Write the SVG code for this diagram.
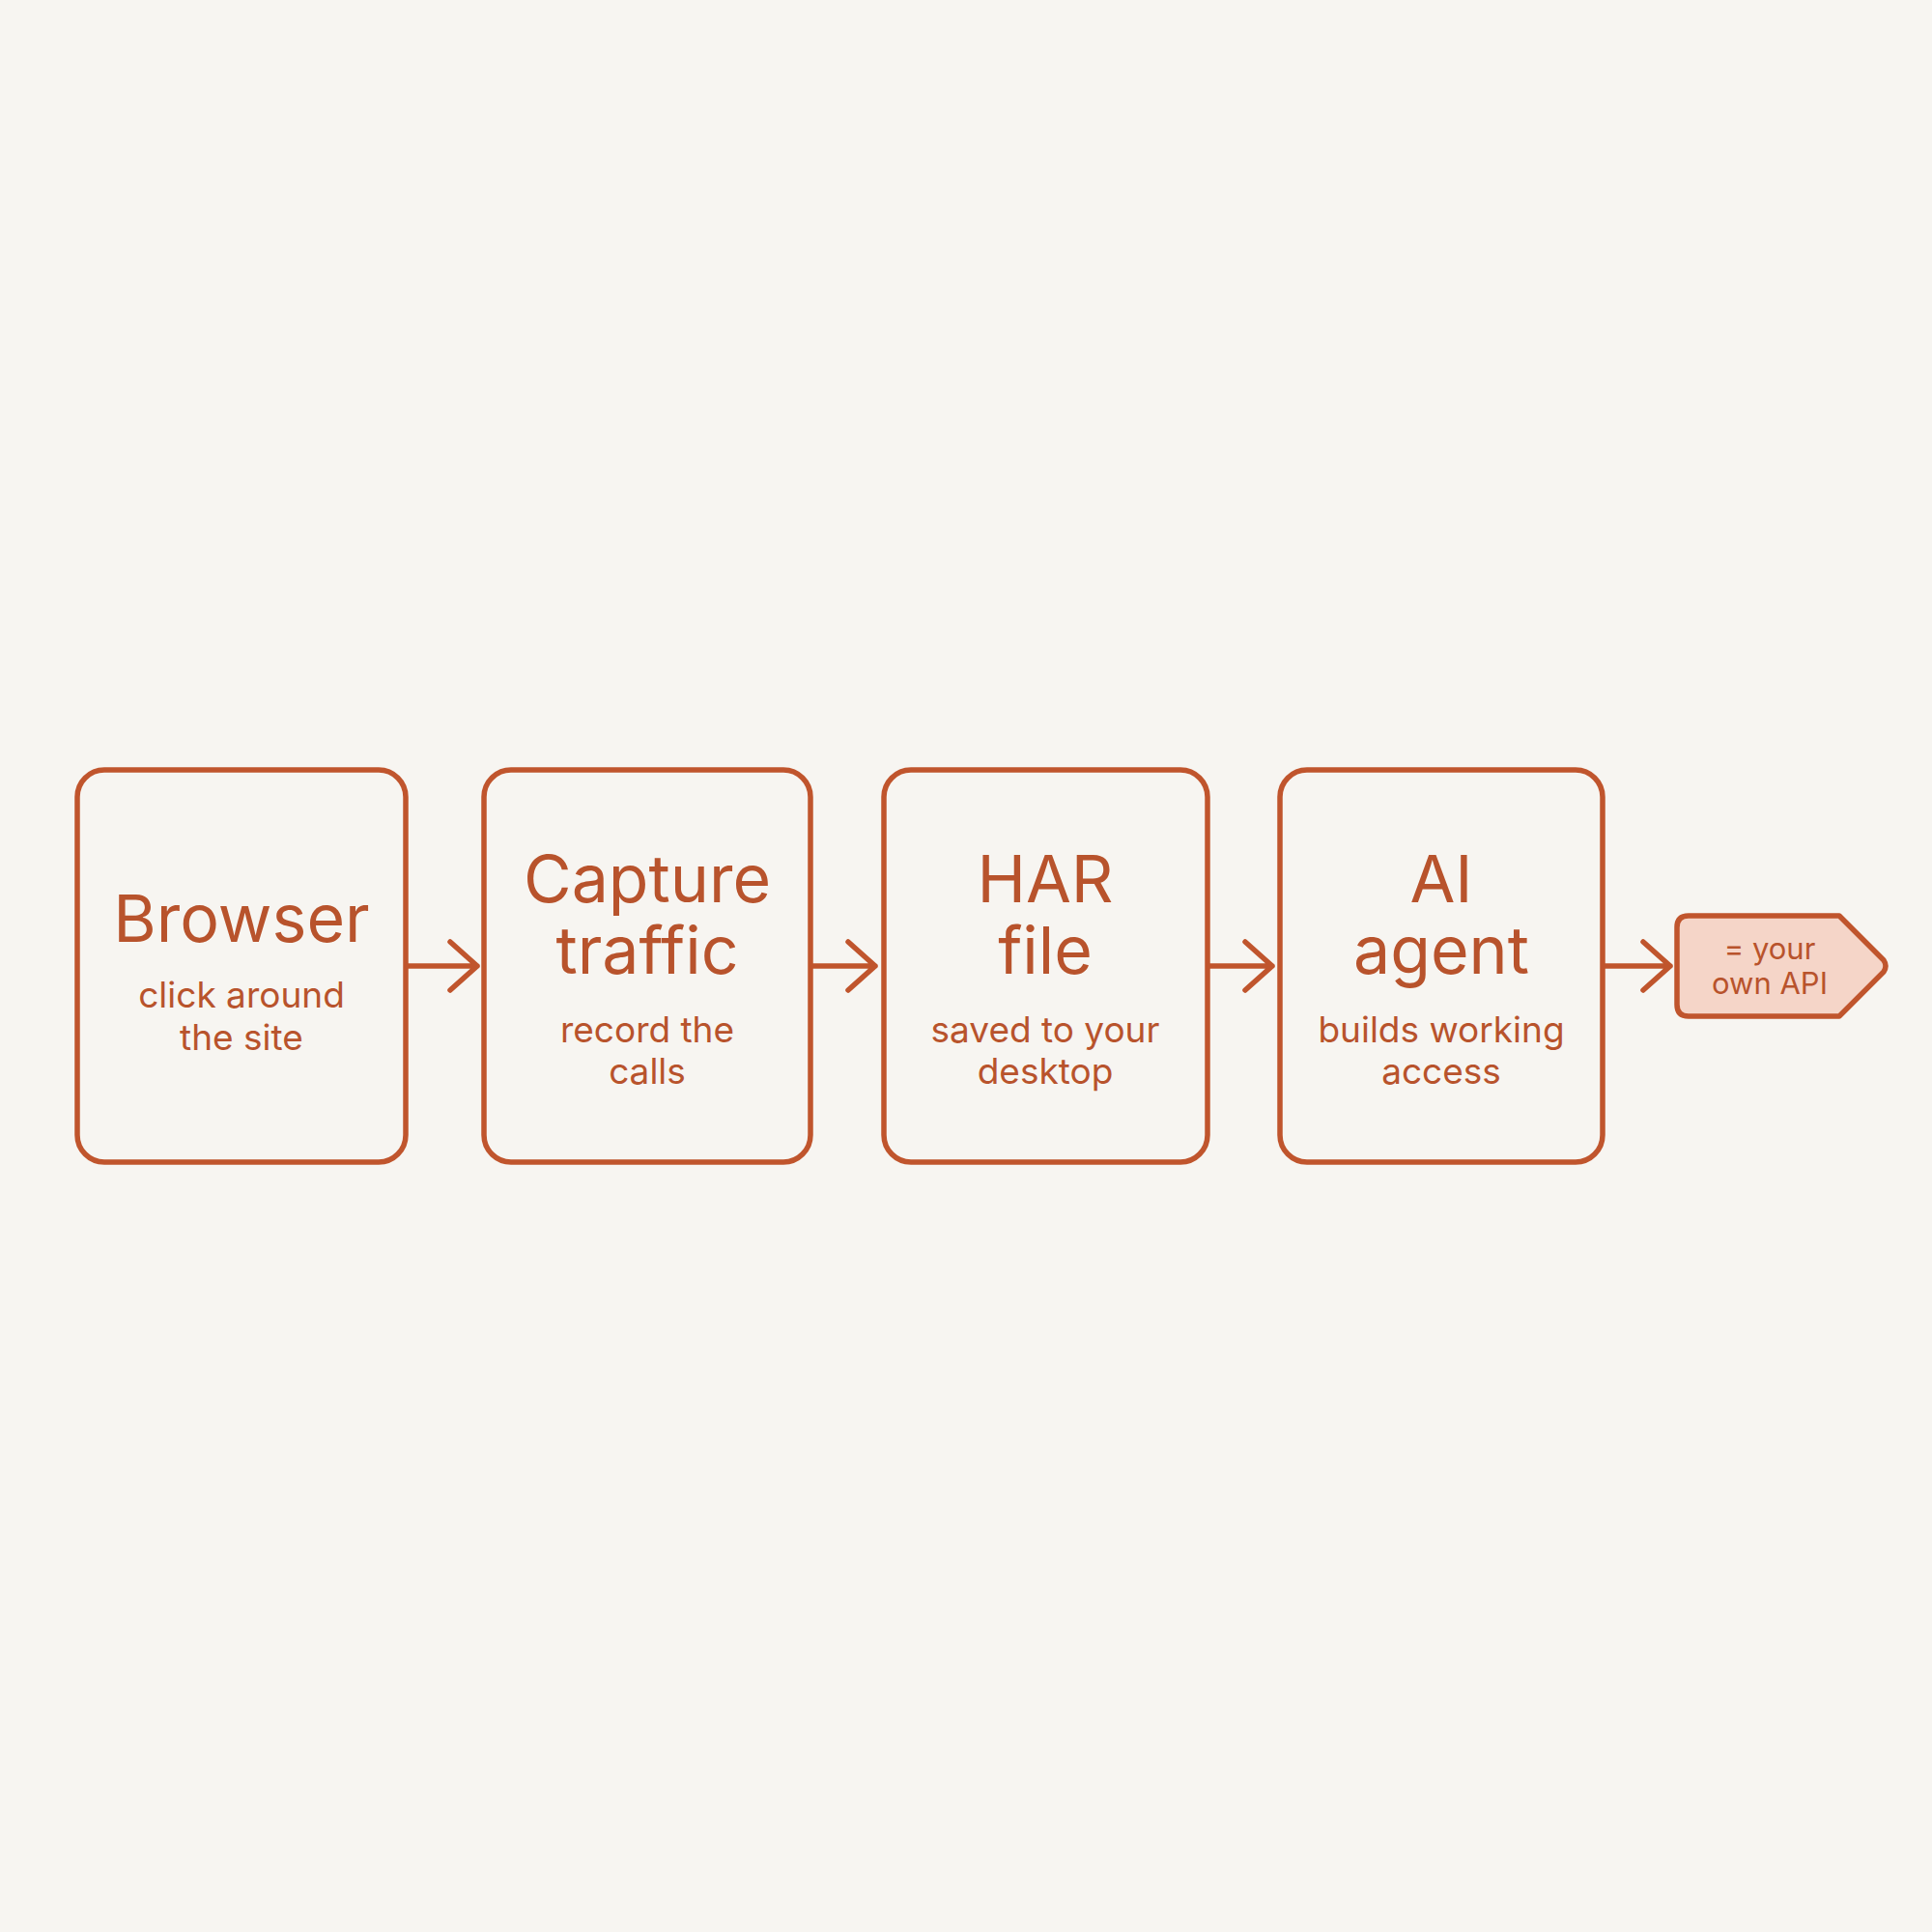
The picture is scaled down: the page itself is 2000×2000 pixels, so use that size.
<svg xmlns="http://www.w3.org/2000/svg" width="2000" height="2000" viewBox="0 0 2000 2000">
<style>
.box{fill:none;stroke:#C0552D;stroke-width:5.5}
.t{font-family:Inter,"Liberation Sans",sans-serif;fill:#B8532C;text-anchor:middle}
.h{font-size:68px}
.s{font-size:37px}
.c{fill:none;stroke:#C0552D;stroke-width:5.5;stroke-linecap:round;stroke-linejoin:round}
</style>
<rect width="2000" height="2000" fill="#F7F5F1"/>
<g id="browser"><rect class="box" x="80" y="797" width="340" height="406" rx="28"/>
<text class="t h" x="250" y="975">Browser</text>
<text class="t s" x="250" y="1043">click around</text><text class="t s" x="250" y="1087">the site</text></g>
<g id="capture"><rect class="box" x="501" y="797" width="338" height="406" rx="28"/>
<text class="t h" x="670" y="934">Capture</text><text class="t h" x="670" y="1008">traffic</text>
<text class="t s" x="670" y="1079">record the</text><text class="t s" x="670" y="1122">calls</text></g>
<g id="har"><rect class="box" x="915" y="797" width="335" height="406" rx="28"/>
<text class="t h" x="1082" y="934">HAR</text><text class="t h" x="1082" y="1008">file</text>
<text class="t s" x="1082" y="1079">saved to your</text><text class="t s" x="1082" y="1122">desktop</text></g>
<g id="agent"><rect class="box" x="1325" y="797" width="334" height="406" rx="28"/>
<text class="t h" x="1492" y="934">AI</text><text class="t h" x="1492" y="1008">agent</text>
<text class="t s" x="1492" y="1079">builds working</text><text class="t s" x="1492" y="1122">access</text></g>
<g id="api"><path d="M1748 948 H1904 L1950 994 Q1954 1000 1950 1006 L1904 1052 H1748 Q1736 1052 1736 1040 V960 Q1736 948 1748 948 Z" fill="#F5D5C8" stroke="#C0552D" stroke-width="5.5" stroke-linejoin="round"/>
<text class="t" font-size="31" x="1832" y="993">= your</text><text class="t" font-size="31" x="1832" y="1029">own API</text></g>
<g id="connectors">
<path class="c" d="M422 1000 H494 M466 975 L494 1000 L466 1025"/>
<path class="c" d="M841 1000 H906 M878 975 L906 1000 L878 1025"/>
<path class="c" d="M1252 1000 H1317 M1289 975 L1317 1000 L1289 1025"/>
<path class="c" d="M1661 1000 H1729 M1701 975 L1729 1000 L1701 1025"/>
</g>
</svg>
